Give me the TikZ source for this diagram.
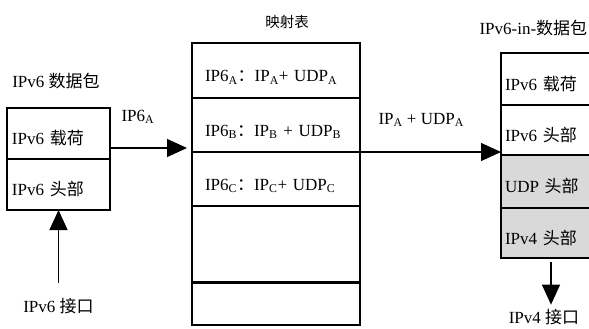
\documentclass[tikz,border=0pt]{standalone}
\usepackage{fontspec}
\setmainfont{Liberation Serif}
\newfontfamily\cjk{Noto Sans CJK SC}
\usepackage{tikz}
\usetikzlibrary{chains,arrows.meta}

\begin{document}
\begin{tikzpicture}[x=1pt,y=-1pt]
        \tikzstyle{every node}=[font=\fontsize{17}{20}\selectfont]
        \tikzstyle{cell}=[draw,line width=1.7pt,outer sep=0pt,align=left,text height=24pt,text depth=2pt]
        \tikzstyle{shaded}=[fill=gray!30]
        \tikzstyle{arr}=[-{Triangle[length=20pt,width=18pt]},line width=1.2pt]

        \useasboundingbox (0,0) rectangle (589,329);
        \clip (0,0) rectangle (589,329);

        %% IPv6 packet
        \node (t6) at (56,81) {IPv6 {\cjk 数据包}};
        \begin{scope}[shift={(58.5,133.5)},start chain=1 going below,node distance=0pt]
            \node [on chain=1,cell,inner xsep=5pt,text width=93pt,minimum height=51pt] (lp) {IPv6 {\cjk 载荷}};
            \node [on chain=1,cell,inner xsep=5pt,text width=93pt,minimum height=51pt] (lh) {IPv6 {\cjk 头部}};
        \end{scope}

        %% mapping table
        \node (tm) at (287,22) {\cjk\fontsize{14.5}{17}\selectfont 映射表};
        \begin{scope}[shift={(276,70.5)},start chain=1 going below,node distance=0pt]
            \node [on chain=1,cell,inner xsep=13pt,text width=142pt,minimum height=55pt] (t1) {IP6\textsubscript{A}{\cjk ：}IP\textsubscript{A}+ UDP\textsubscript{A}};
            \node [on chain=1,cell,inner xsep=13pt,text width=142pt,minimum height=54pt] (t2) {IP6\textsubscript{B}{\cjk ：}IP\textsubscript{B} + UDP\textsubscript{B}};
            \node [on chain=1,cell,inner xsep=13pt,text width=142pt,minimum height=54pt] (t3) {IP6\textsubscript{C}{\cjk ：}IP\textsubscript{C}+ UDP\textsubscript{C}};
            \node [on chain=1,cell,inner xsep=13pt,text width=142pt,minimum height=76pt] (t4) {};
            \node [on chain=1,cell,inner xsep=13pt,text width=142pt,minimum height=43pt] (t5) {};
        \end{scope}
        \draw [line width=3pt] (t4.south west) -- (t4.south east);

        %% IPv6-in-IPv4 packet
        \node [anchor=west] (tr) at (476,28) {IPv6-in-{\cjk 数据包}};
        \begin{scope}[shift={(556,79)},start chain=1 going below,node distance=0pt]
            \node [on chain=1,cell,inner xsep=4pt,text width=102pt,minimum height=52pt] (r1) {IPv6 {\cjk 载荷}};
            \node [on chain=1,cell,inner xsep=4pt,text width=102pt,minimum height=50pt] (r2) {IPv6 {\cjk 头部}};
            \node [on chain=1,cell,shaded,inner xsep=4pt,text width=102pt,minimum height=53pt] (r3) {UDP {\cjk 头部}};
            \node [on chain=1,cell,shaded,inner xsep=4pt,text width=102pt,minimum height=50pt] (r4) {IPv4 {\cjk 头部}};
        \end{scope}

        %% arrows
        \coordinate (tip6) at ([xshift=-5pt,yshift=4pt]t2.south west);
        \draw [arr] (lp.east |- tip6) -- (tip6);
        \node [anchor=west] (la) at (118,117) {IP6\textsubscript{A}};

        \draw [arr] (t2.south east) -- (t2.south east -| r2.west);
        \node [anchor=west] (lb) at (375,120) {IP\textsubscript{A} + UDP\textsubscript{A}};

        \node (if6) at (58.5,306) {IPv6 {\cjk 接口}};
        \draw [arr] ([yshift=12pt]if6.north) -- (lh.south);

        \node (if4) at (544,317) {IPv4 {\cjk 接口}};
        \draw [arr] ([xshift=-5pt,yshift=-4pt]r4.south) -- ([xshift=7pt,yshift=1pt]if4.north);

    \end{tikzpicture}
\end{document}
